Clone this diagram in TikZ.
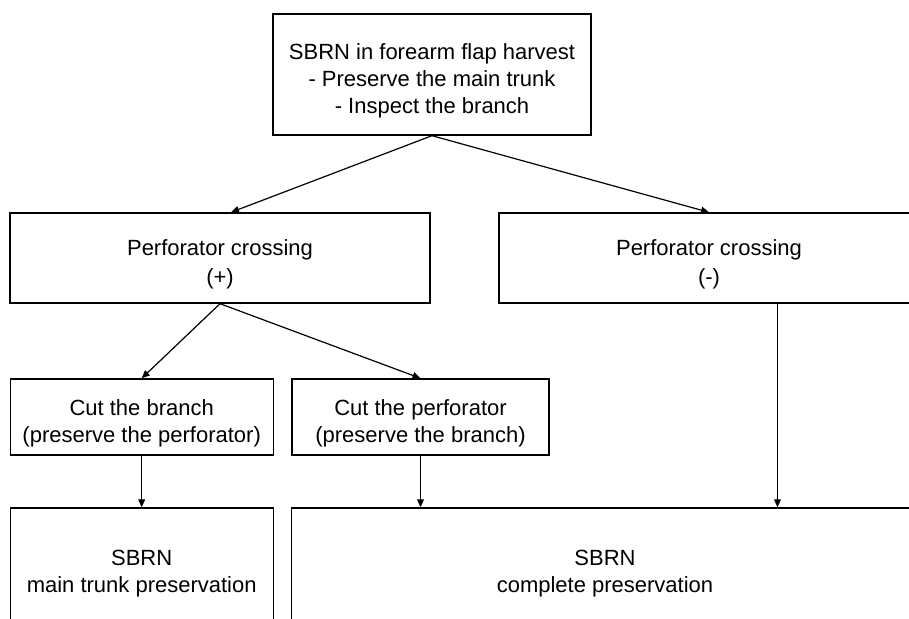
\documentclass[tikz,border=0pt]{standalone}
\usepackage{fontspec}
\setmainfont{Liberation Sans}
\usetikzlibrary{positioning, arrows.meta}
\tikzset{%
	>={Triangle[length=4pt, width=3.4pt]},
	every edge/.append style={line width = 0.6pt},
	box/.style = {name = #1, rectangle, draw, line width = 0.7pt, inner sep = 0pt, align = center, font = \fontsize{11}{13.5}\selectfont}
}
\newcommand{\upper}{\rule{0pt}{14pt}}
\begin{document}
\begin{tikzpicture}[x=0.5pt, y=-0.5pt]
			\useasboundingbox (0,0) rectangle (909,619);
			\clip (0,0) rectangle (909,619);
			\node [box = {top}, minimum width = 159pt, minimum height = 60.5pt] at (432,74.5) {\upper SBRN in forearm flap harvest\\- Preserve the main trunk\\- Inspect the branch};
			\node [box = {plus}, minimum width = 210pt, minimum height = 45pt] at (220,258) {\upper Perforator crossing\\[1pt](+)};
			\node [box = {minus}, minimum width = 210pt, minimum height = 45pt] at (709,258) {\upper Perforator crossing\\[1pt](-)};
			\node [box = {cutb}, minimum width = 131.5pt, minimum height = 38pt] at (141.7,417) {\upper Cut the branch\\(preserve the perforator)};
			\node [box = {cutp}, minimum width = 128.5pt, minimum height = 38pt] at (420.5,417) {\upper Cut the perforator\\(preserve the branch)};
			\node [box = {mtp}, minimum width = 131.5pt, minimum height = 59.5pt] at (141.7,567.5) {\upper SBRN\\main trunk preservation};
			\node [box = {cp}, minimum width = 313.5pt, minimum height = 59.5pt] at (605,567.5) {\upper SBRN\\complete preservation};
			\path [->] (top.south) edge ([xshift=5.5pt]plus.north);
			\path [->] (top.south) edge (minus.north);
			\path [->] (plus.south) edge (cutb.north);
			\path [->] (plus.south) edge (cutp.north);
			\path [->] (cutb.south) edge (mtp.north);
			\path [->] (cutp.south) edge (cutp.south |- cp.north);
			\path [->] ([xshift=34.25pt]minus.south) edge ([xshift=34.25pt]minus.south |- cp.north);
\end{tikzpicture}
\end{document}
